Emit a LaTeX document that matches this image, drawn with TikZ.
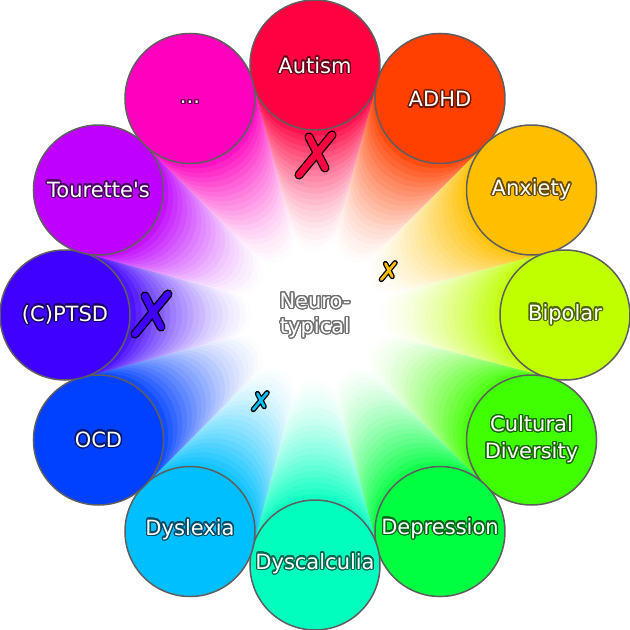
\documentclass[tikz,border=0pt]{standalone}
\usepackage{fontspec}
\setmainfont{DejaVu Sans}
\usepackage{contour}
\contourlength{1.3pt}
\contournumber{24}
\usetikzlibrary{calc}
\definecolor{nd-autism}{HTML}{FF0040}
\definecolor{nd-adhd}{HTML}{FF4000}
\definecolor{nd-anxiety}{HTML}{FFBF00}
\definecolor{nd-bipolar}{HTML}{BFFF00}
\definecolor{nd-culture}{HTML}{40FF00}
\definecolor{nd-depression}{HTML}{00FF40}
\definecolor{nd-dyscalc}{HTML}{00FFBF}
\definecolor{nd-dyslexia}{HTML}{00BFFF}
\definecolor{nd-ocd}{HTML}{0040FF}
\definecolor{nd-ptsd}{HTML}{4000FF}
\definecolor{nd-tourette}{HTML}{BF00FF}
\definecolor{nd-more}{HTML}{FF00BF}
\definecolor{nd-edge}{HTML}{5E5E5E}
\definecolor{nd-grey}{HTML}{707070}
\newcommand\ndtext[1]{\contour{\col!40!black}{#1}}
% hand drawn cross: position, scale, colour
\newcommand\ndcross[3]{%
  \begin{scope}[shift={#1}, scale=#2]
    \draw[line width=#2*6.5pt+2.6pt, black] (17,22) -- (-16,-18) (-6,20) -- (10,-11);
    \draw[line width=#2*6.5pt, #3] (17,22) -- (-16,-18) (-6,20) -- (10,-11);
  \end{scope}}

\begin{document}
\begin{tikzpicture}[x=1pt, y=1pt, line cap=round, line join=round,
  spot/.style={circle, draw=nd-edge, line width=1.5pt, minimum size=130pt,
    inner sep=0pt, text=white, align=center,
    font=\fontsize{21}{25}\selectfont, text height=10pt, text depth=0pt},
  % small per-label baseline tweaks
  spot0/.style={text height=16pt}, spot1/.style={text height=17pt},
  spot4/.style={font=\fontsize{21}{27}\selectfont, text height=37pt},
  spot5/.style={text height=5pt}, spot6/.style={text height=8pt},
  spot7/.style={text height=7pt}, spot8/.style={text height=14pt},
  spot9/.style={text height=12pt}, spot10/.style={text height=14pt}]
  \fill[white] (-315,-315) rectangle (315,315);
  \useasboundingbox (-315,-315) rectangle (315,315);
  % trails fading into the middle
  \foreach \i [evaluate=\i as \t using \i/32,
      evaluate=\i as \p using {int(100*pow((\i/32-0.3)/0.7,1.5))}] in {10,...,31}
    \foreach \k/\col in {0/nd-autism, 1/nd-adhd, 2/nd-anxiety, 3/nd-bipolar,
        4/nd-culture, 5/nd-depression, 6/nd-dyscalc, 7/nd-dyslexia,
        8/nd-ocd, 9/nd-ptsd, 10/nd-tourette, 11/nd-more}
      \fill[\col!\p!white] (90-30*\k:250*\t) circle (65*\t);
  % the ring
  \foreach \k/\col/\txt in {0/nd-autism/{\ndtext{Autism}},
      1/nd-adhd/{\ndtext{ADHD}}, 2/nd-anxiety/{\ndtext{Anxiety}},
      3/nd-bipolar/{\ndtext{Bipolar}},
      4/nd-culture/{\ndtext{Cultural}\\\ndtext{Diversity}},
      5/nd-depression/{\ndtext{Depression}}, 6/nd-dyscalc/{\ndtext{Dyscalculia}},
      7/nd-dyslexia/{\ndtext{Dyslexia}}, 8/nd-ocd/{\ndtext{OCD}},
      9/nd-ptsd/{\ndtext{(C)PTSD}}, 10/nd-tourette/{\ndtext{Tourette\textquotesingle s}},
      11/nd-more/{\ndtext{...}}}
    \node[spot, fill=\col, spot\k/.try] (spot\k) at (90-30*\k:250) {\txt};
  \node[text=white, align=center, font=\fontsize{21}{25}\selectfont] (neuro) at (0,-1)
    {\contour{nd-grey}{Neuro-}\\\contour{nd-grey}{typical}};
  % crosses
  \ndcross{(0,158)}{1}{nd-autism}
  \ndcross{(73,43)}{0.42}{nd-anxiety}
  \ndcross{(-164,-1)}{1}{nd-ptsd}
  \ndcross{(-55,-87)}{0.42}{nd-dyslexia}
\end{tikzpicture}
\end{document}
